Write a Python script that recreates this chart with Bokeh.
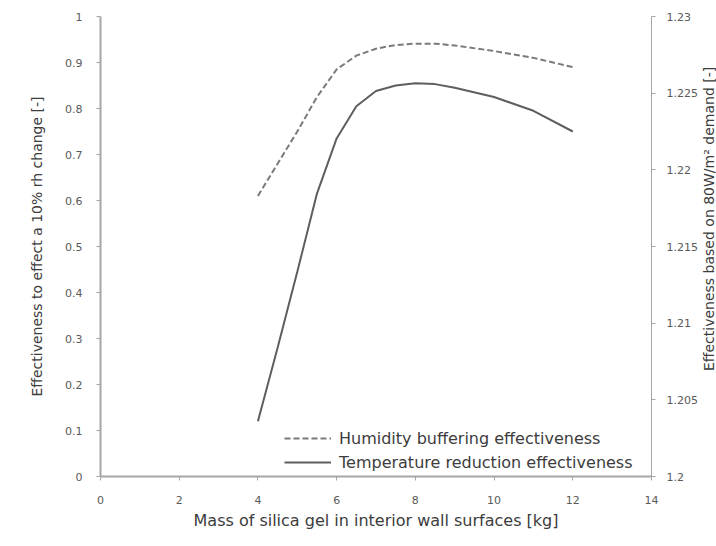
import math
from bokeh.plotting import figure
from bokeh.layouts import row
from bokeh.models import (LinearAxis, Range1d, FixedTicker, NumeralTickFormatter,
                          Legend, LegendItem)
from bokeh.core.properties import value
from bokeh.embed import file_html
from bokeh.resources import INLINE

# ---- data ----
mass_kg = [4, 4.5, 5, 5.5, 6, 6.5, 7, 7.5, 8, 8.5, 9, 10, 11, 12]
humidity_eff = [0.61, 0.68, 0.75, 0.825, 0.885, 0.915, 0.93, 0.938, 0.941, 0.941,
                0.937, 0.925, 0.91, 0.89]
temperature_eff = [0.12, 0.28, 0.445, 0.615, 0.735, 0.805, 0.838, 0.85, 0.855, 0.853,
                   0.845, 0.825, 0.795, 0.75]
x_ticks = [0, 2, 4, 6, 8, 10, 12, 14]
left_ticks = [0, 0.1, 0.2, 0.3, 0.4, 0.5, 0.6, 0.7, 0.8, 0.9, 1.0]
right_ticks = [1.2, 1.205, 1.21, 1.215, 1.22, 1.225, 1.23]
series_names = ["Humidity buffering effectiveness", "Temperature reduction effectiveness"]
x_title = "Mass of silica gel in interior wall surfaces [kg]"
left_title = "Effectiveness to effect a 10% rh change [-]"
right_title = "Effectiveness based on 80W/m² demand [-]"

FONT = "DejaVu Sans"
TXT = "#3c3c3c"
TICKC = "#5a5a5a"
AXC = "#a6a6a6"

p = figure(width=700, height=538, output_backend="svg", toolbar_location=None,
           x_range=Range1d(0, 14), y_range=Range1d(0, 1),
           min_border_left=100, min_border_right=48, min_border_top=16, min_border_bottom=62)
p.outline_line_color = None
p.grid.visible = False
p.background_fill_color = "white"
p.border_fill_color = "white"

p.extra_y_ranges = {"right": Range1d(1.2, 1.23)}

r1 = p.line(mass_kg, humidity_eff, line_color="#7a7a7a", line_width=2, line_dash="6 3")
r2 = p.line(mass_kg, temperature_eff, line_color="#5e5e5e", line_width=2)

def style_axis(ax):
    ax.axis_line_color = AXC
    ax.major_tick_line_color = AXC
    ax.minor_tick_line_color = None
    ax.major_tick_in = 0
    ax.major_tick_out = 4
    ax.major_label_text_font = FONT
    ax.major_label_text_font_size = "11px"
    ax.major_label_text_color = TICKC
    ax.axis_label_text_font = FONT
    ax.axis_label_text_font_size = "14px"
    ax.axis_label_text_font_style = "normal"
    ax.axis_label_text_color = TXT

xa = p.xaxis[0]
xa.ticker = FixedTicker(ticks=x_ticks)
style_axis(xa)
xa.axis_line_width = 2
xa.major_label_standoff = 15
xa.axis_label = x_title
xa.axis_label_text_font_size = "16px"
xa.axis_label_standoff = 4

ya = p.yaxis[0]
ya.ticker = FixedTicker(ticks=left_ticks)
ya.formatter = NumeralTickFormatter(format="0.[0]")
style_axis(ya)
ya.axis_line_width = 2
ya.major_label_standoff = 14
ya.axis_label = left_title
ya.axis_label_standoff = 17

ra = LinearAxis(y_range_name="right", ticker=FixedTicker(ticks=right_ticks),
                formatter=NumeralTickFormatter(format="0.[000]"))
style_axis(ra)
ra.axis_line_width = 1
ra.major_label_standoff = 11
p.add_layout(ra, "right")

legend = Legend(items=[LegendItem(label=series_names[0], renderers=[r1]),
                       LegendItem(label=series_names[1], renderers=[r2])],
                location=(184, 4))
legend.border_line_color = None
legend.background_fill_alpha = 0
legend.glyph_width = 47
legend.glyph_height = 20
legend.label_height = 20
legend.label_standoff = 8
legend.spacing = 4
legend.padding = 2
legend.margin = 0
legend.label_text_font = FONT
legend.label_text_font_size = "16px"
legend.label_text_color = TXT
p.add_layout(legend, "center")

# narrow companion panel holding the right-hand axis title (reads bottom-to-top)
p2 = figure(width=16, height=538, output_backend="svg", toolbar_location=None,
            x_range=Range1d(0, 1), y_range=p.y_range,
            x_axis_type=None, y_axis_type=None,
            min_border_left=0, min_border_right=0, min_border_top=16, min_border_bottom=62)
p2.outline_line_color = None
p2.background_fill_color = "white"
p2.border_fill_color = "white"
p2.text(x=[0.5], y=[0.56], text=[right_title], angle=math.pi / 2,
        text_align="center", text_baseline="middle",
        text_font=value(FONT), text_font_size="14px", text_color=TXT)

layout = row(p, p2, spacing=0)
open("out.html", "w").write(file_html(layout, INLINE))
